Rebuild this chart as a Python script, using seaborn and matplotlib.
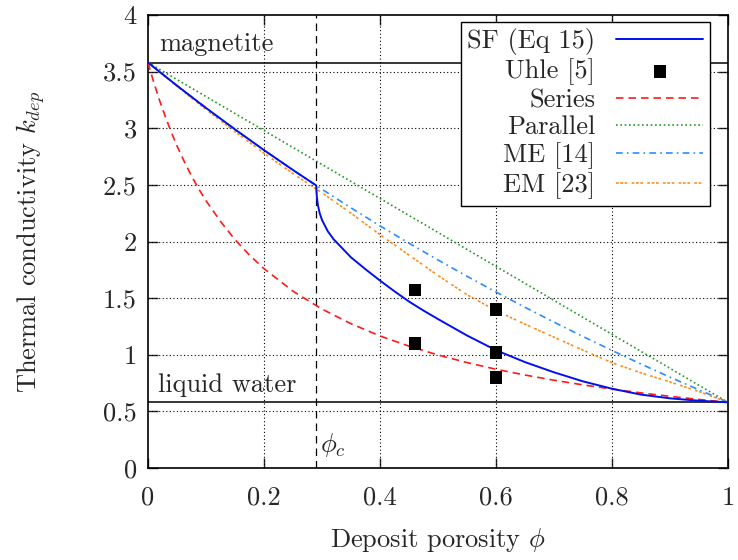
import numpy as np
import pandas as pd
import matplotlib
matplotlib.use("Agg")
import matplotlib.pyplot as plt
import seaborn as sns
from matplotlib.ticker import FixedLocator, FuncFormatter

# ---------------- data ----------------
k_magnetite = 3.58
k_water = 0.58
phi_c = 0.29

phi_grid = [0.0, 0.05, 0.1, 0.15, 0.2, 0.25, 0.3, 0.35, 0.4, 0.45, 0.5,
            0.55, 0.6, 0.65, 0.7, 0.75, 0.8, 0.85, 0.9, 0.95, 1.0]

me_k = [3.58, 3.376, 3.179, 2.990, 2.807, 2.631, 2.461, 2.297, 2.138, 1.985, 1.837,
        1.693, 1.554, 1.419, 1.288, 1.161, 1.038, 0.918, 0.802, 0.690, 0.58]

em_k = [3.58, 3.37, 3.165, 2.97, 2.78, 2.60, 2.43, 2.25, 2.06, 1.88, 1.70,
        1.53, 1.39, 1.27, 1.155, 1.04, 0.93, 0.84, 0.76, 0.675, 0.58]

series_phi = [0.0, 0.01, 0.02, 0.03, 0.04, 0.05, 0.0625, 0.075, 0.0875, 0.1, 0.125,
              0.15, 0.175, 0.2, 0.25, 0.3, 0.35, 0.4, 0.45, 0.5, 0.55, 0.6, 0.65,
              0.7, 0.75, 0.8, 0.85, 0.9, 0.95, 1.0]
series_k = [3.58, 3.404, 3.245, 3.101, 2.967, 2.844, 2.706, 2.579, 2.464, 2.360,
            2.178, 2.016, 1.880, 1.760, 1.561, 1.403, 1.274, 1.166, 1.076, 0.998,
            0.931, 0.872, 0.821, 0.775, 0.734, 0.697, 0.663, 0.633, 0.605, 0.58]

parallel_phi = [0.0, 1.0]
parallel_k = [3.58, 0.58]

sf_phi = [0.0, 0.05, 0.1, 0.15, 0.2, 0.25, 0.29, 0.291, 0.293, 0.296, 0.3, 0.31,
          0.32, 0.335, 0.35, 0.375, 0.4, 0.425, 0.45, 0.475, 0.5, 0.55, 0.6,
          0.65, 0.7, 0.75, 0.8, 0.85, 0.9, 0.95, 1.0]
sf_k = [3.58, 3.376, 3.179, 2.990, 2.807, 2.631, 2.495, 2.40, 2.32, 2.25, 2.19, 2.09,
        2.02, 1.94, 1.86, 1.755, 1.655, 1.56, 1.47, 1.39, 1.315, 1.17, 1.04,
        0.935, 0.845, 0.765, 0.70, 0.648, 0.615, 0.594, 0.58]

uhle_phi = [0.46, 0.46, 0.60, 0.60, 0.60]
uhle_k = [1.57, 1.10, 1.40, 1.02, 0.80]

x_ticks = [0, 0.2, 0.4, 0.6, 0.8, 1.0]
y_ticks = [0, 0.5, 1, 1.5, 2, 2.5, 3, 3.5, 4]

labels = ["SF (Eq 15)", "Uhle [5]", "Series", "Parallel", "ME [14]", "EM [23]"]

# ---------------- style ----------------
sns.set_style("ticks")
plt.rcParams["font.family"] = ["cmr10", "DejaVu Serif"]
plt.rcParams["mathtext.fontset"] = "cm"
plt.rcParams["axes.formatter.use_mathtext"] = True
plt.rcParams["axes.unicode_minus"] = False
FS = 19

fig = plt.figure(figsize=(7.38, 5.6), dpi=100)
ax = fig.add_axes([148 / 738, 92 / 560, 580 / 738, 453 / 560])

# grid
for xv in x_ticks[1:-1]:
    ax.axvline(xv, color="black", lw=0.8, ls=(0, (1, 2.2)), zorder=1)
for yv in y_ticks[1:-1]:
    ax.axhline(yv, color="black", lw=0.8, ls=(0, (1, 2.2)), zorder=1)

# reference lines
ax.axhline(k_magnetite, color="black", lw=1.1, zorder=2)
ax.axhline(k_water, color="black", lw=1.1, zorder=2)
ax.axvline(phi_c, color="black", lw=0.9, ls=(0, (6, 4)), zorder=2)

df_sf = pd.DataFrame({"phi": sf_phi, "k": sf_k})
df_ser = pd.DataFrame({"phi": series_phi, "k": series_k})
df_par = pd.DataFrame({"phi": parallel_phi, "k": parallel_k})
df_me = pd.DataFrame({"phi": phi_grid, "k": me_k})
df_em = pd.DataFrame({"phi": phi_grid, "k": em_k})
df_uhle = pd.DataFrame({"phi": uhle_phi, "k": uhle_k})

sns.lineplot(data=df_par, x="phi", y="k", ax=ax, color="#229922", lw=1.2,
             ls=(0, (1, 1.6)), estimator=None, sort=False, zorder=3)
sns.lineplot(data=df_me, x="phi", y="k", ax=ax, color="#2b8cff", lw=1.2,
             ls=(0, (4, 2.5, 1, 2.5)), estimator=None, sort=False, zorder=3)
sns.lineplot(data=df_em, x="phi", y="k", ax=ax, color="#ff8c1a", lw=1.2,
             ls=(0, (1.6, 1.0, 1.6, 1.0, 1.6, 2.6)), estimator=None, sort=False, zorder=3)
sns.lineplot(data=df_ser, x="phi", y="k", ax=ax, color="#ff1a1a", lw=1.2,
             ls=(0, (4.5, 3)), estimator=None, sort=False, zorder=4)
sns.lineplot(data=df_sf, x="phi", y="k", ax=ax, color="#0010ee", lw=1.4,
             estimator=None, sort=False, zorder=5)
sns.scatterplot(data=df_uhle, x="phi", y="k", ax=ax, marker="s", s=80,
                color="black", edgecolor="none", zorder=6)

lines = ax.get_lines()
par_l, me_l, em_l, ser_l, sf_l = lines[-5:]
uhle_h = ax.collections[-1]
handles = [sf_l, uhle_h, ser_l, par_l, me_l, em_l]

leg = ax.legend(handles, labels, loc="upper right",
                bbox_to_anchor=(0.969, 0.985), markerfirst=False,
                fontsize=FS, frameon=True, fancybox=False, framealpha=1,
                edgecolor="black", handlelength=3.3, handletextpad=0.8,
                labelspacing=0.12, borderpad=0.25, borderaxespad=0,
                scatterpoints=1)
leg.get_frame().set_linewidth(1.0)
leg.set_zorder(10)

# annotations
ax.text(0.02, 3.74, "magnetite", fontsize=FS, ha="left", va="center", zorder=7)
ax.text(0.017, 0.73, "liquid water", fontsize=FS, ha="left", va="center", zorder=7)
ax.text(0.296, 0.20, r"$\phi_c$", fontsize=FS, ha="left", va="center", zorder=7)

ax.set_xlim(0, 1)
ax.set_ylim(0, 4)
ax.xaxis.set_major_locator(FixedLocator(x_ticks))
ax.yaxis.set_major_locator(FixedLocator(y_ticks))
ax.xaxis.set_major_formatter(FuncFormatter(lambda v, p: f"{v:g}"))
ax.yaxis.set_major_formatter(FuncFormatter(lambda v, p: f"{v:g}"))
ax.tick_params(direction="in", length=7, width=1.0, top=True, right=True,
               labelsize=FS, pad=8)
ax.tick_params(axis="x", pad=13)
for sp in ax.spines.values():
    sp.set_linewidth(1.2)
    sp.set_color("black")
    sp.set_visible(True)

ax.set_xlabel(r"Deposit porosity $\phi$", fontsize=FS, labelpad=12)
ax.set_ylabel(r"Thermal conductivity $k_{dep}$", fontsize=FS, labelpad=40)

fig.savefig("out.png", dpi=100)
